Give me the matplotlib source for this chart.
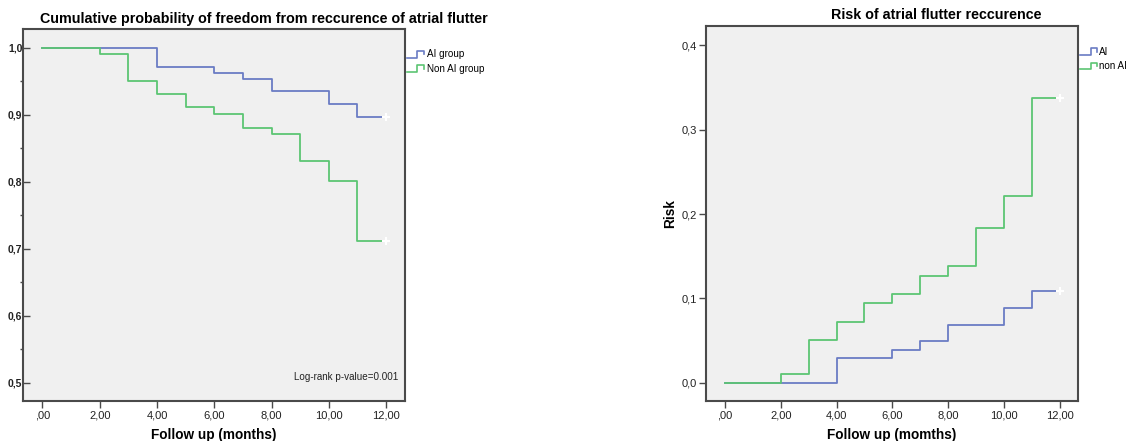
import matplotlib
matplotlib.use("Agg")
import matplotlib.pyplot as plt
from matplotlib.legend_handler import HandlerBase
from matplotlib.lines import Line2D

plt.rcParams['font.family'] = ['Liberation Sans', 'DejaVu Sans']

# ---- data ----
months = [0, 1, 2, 3, 4, 5, 6, 7, 8, 9, 10, 11, 11.87]
surv_ai = [1.0, 1.0, 1.0, 1.0, 0.972, 0.972, 0.963, 0.953, 0.935, 0.935, 0.916, 0.897, 0.897]
surv_non_ai = [1.0, 1.0, 0.991, 0.951, 0.931, 0.911, 0.901, 0.881, 0.871, 0.831, 0.801, 0.712, 0.712]
risk_ai = [0.0, 0.0, 0.0, 0.0, 0.029, 0.029, 0.039, 0.049, 0.068, 0.068, 0.088, 0.109, 0.109]
risk_non_ai = [0.0, 0.0, 0.010, 0.051, 0.072, 0.094, 0.105, 0.126, 0.138, 0.184, 0.221, 0.338, 0.338]
censor_x = 12.0

xticks = [0, 2, 4, 6, 8, 10, 12]
xticklabels = [',00', '2,00', '4,00', '6,00', '8,00', '10,00', '12,00']
left_yticks = [0.5, 0.6, 0.7, 0.8, 0.9, 1.0]
left_yticklabels = ['0,5', '0,6', '0,7', '0,8', '0,9', '1,0']
left_minor_yticks = [0.55, 0.65, 0.75, 0.85, 0.95]
right_yticks = [0.0, 0.1, 0.2, 0.3, 0.4]
right_yticklabels = ['0,0', '0,1', '0,2', '0,3', '0,4']

BLUE = '#6a7cc4'
GREEN = '#5cc573'
BG = '#f0f0f0'
FRAME = '#4a4a4a'
TXT = '#222222'


class StepHandler(HandlerBase):
    def create_artists(self, legend, orig_handle, xdescent, ydescent,
                       width, height, fontsize, trans):
        w = width
        h = height
        x0 = -xdescent
        y0 = -ydescent
        xs = [x0, x0 + 0.6 * w, x0 + 0.6 * w, x0 + w, x0 + w]
        ys = [y0 - 0.05 * h, y0 - 0.05 * h, y0 + 0.95 * h, y0 + 0.95 * h, y0 + 0.45 * h]
        ln = Line2D(xs, ys, color=orig_handle.get_color(), lw=1.2, transform=trans)
        return [ln]


fig = plt.figure(figsize=(11.29, 4.41), dpi=100)

W, H = 1129.0, 441.0
ax1 = fig.add_axes([23 / W, 1 - 401 / H, (405 - 23) / W, (401 - 29) / H])
ax2 = fig.add_axes([706 / W, 1 - 401 / H, (1078 - 706) / W, (401 - 26) / H])

for ax in (ax1, ax2):
    ax.set_facecolor(BG)
    for s in ax.spines.values():
        s.set_color(FRAME)
        s.set_linewidth(1.5)
    ax.set_xlim(-0.68, 12.66)
    ax.set_xticks(xticks)
    ax.set_xticklabels(xticklabels, fontsize=8, color=TXT)
    ax.tick_params(axis='x', direction='out', length=5, width=1, color=FRAME, pad=2)

# ---- left plot ----
l1, = ax1.step(months, surv_ai, where='post', color=BLUE, lw=1.3, label='AI group')
l2, = ax1.step(months, surv_non_ai, where='post', color=GREEN, lw=1.3, label='Non AI group')
ax1.plot([censor_x, censor_x], [surv_ai[-1], surv_non_ai[-1]], linestyle='none',
         marker='+', color='white', ms=6, mew=1.5)
ax1.set_ylim(0.473, 1.028)
ax1.set_yticks(left_yticks)
ax1.set_yticklabels(left_yticklabels, fontsize=7.5, fontweight='bold', color=TXT)
ax1.set_yticks(left_minor_yticks, minor=True)
ax1.tick_params(axis='y', which='major', direction='in', length=5, width=1, color=FRAME, pad=0.5)
ax1.tick_params(axis='y', which='minor', direction='out', length=2, width=1, color=FRAME)
ax1.set_title('Cumulative probability of freedom from reccurence of atrial flutter',
              fontsize=10.3, fontweight='bold', pad=4, x=0.63)
ax1.set_xlabel('Follow up (months)', fontsize=9.8, fontweight='bold', labelpad=5.5)
ax1.text(0.982, 0.065, 'Log-rank p-value=0.001', transform=ax1.transAxes,
         ha='right', va='center', fontsize=7.1, color=TXT)
ax1.legend(handles=[l1, l2], loc='upper left', bbox_to_anchor=(1.005, 0.945),
           frameon=False, fontsize=7.1, handlelength=1.75, handletextpad=0.25,
           labelspacing=0.45, borderaxespad=0, borderpad=0,
           handler_map={Line2D: StepHandler()})

# ---- right plot ----
r1, = ax2.step(months, risk_ai, where='post', color=BLUE, lw=1.3, label='AI')
r2, = ax2.step(months, risk_non_ai, where='post', color=GREEN, lw=1.3, label='non AI')
ax2.plot([censor_x, censor_x], [risk_ai[-1], risk_non_ai[-1]], linestyle='none',
         marker='+', color='white', ms=6, mew=1.5)
ax2.set_ylim(-0.0217, 0.4229)
ax2.set_yticks(right_yticks)
ax2.set_yticklabels(right_yticklabels, fontsize=8, color=TXT)
ax2.tick_params(axis='y', direction='out', length=5, width=1, color=FRAME, pad=1.5)
ax2.set_title('Risk of atrial flutter reccurence', fontsize=10.3, fontweight='bold',
              pad=5, x=0.618)
ax2.set_xlabel('Follow up (momths)', fontsize=9.8, fontweight='bold', labelpad=5.5)
ax2.set_ylabel('Risk', fontsize=9.8, fontweight='bold', labelpad=3)
ax2.legend(handles=[r1, r2], loc='upper left', bbox_to_anchor=(1.006, 0.945),
           frameon=False, fontsize=7.1, handlelength=1.75, handletextpad=0.2,
           labelspacing=0.45, borderaxespad=0, borderpad=0,
           handler_map={Line2D: StepHandler()})

fig.savefig('out.png', dpi=100, facecolor='white')
